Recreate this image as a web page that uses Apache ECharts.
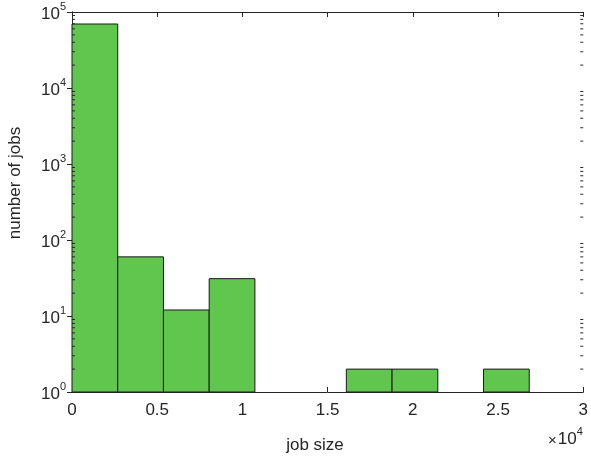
<!DOCTYPE html>
<html><head><meta charset="utf-8">
<script src="https://cdn.jsdelivr.net/npm/echarts@6/dist/echarts.min.js"></script>
<style>html,body{margin:0;padding:0;background:#fff}#c{width:591px;height:458px}</style>
</head><body><div id="c"></div>
<script>
// Data
const binStart = 0;
const binWidth = 2683;
const counts = [69500, 60, 12, 31, 0, 0, 2, 2, 0, 2];
const xTicks = [0, 5000, 10000, 15000, 20000, 25000, 30000];
const yDecades = [0, 1, 2, 3, 4, 5];
const xLabel = 'job size';
const yLabel = 'number of jobs';

const AX = '#262626';
const FONT = 'Liberation Sans, Arial, sans-serif';

const bars = counts.map((c, i) => [binStart + i * binWidth, binStart + (i + 1) * binWidth, c]).filter(d => d[2] > 0);

const minorVals = [];
for (let k = 0; k < 5; k++) for (let m = 2; m <= 9; m++) minorVals.push([m * Math.pow(10, k)]);

const chart = echarts.init(document.getElementById('c'), null, {renderer: 'canvas'});
const supRich = {
  b: {fontSize: 17, fontFamily: FONT, color: AX, lineHeight: 22, verticalAlign: 'bottom'},
  s: {fontSize: 11, fontFamily: FONT, color: AX, lineHeight: 13, verticalAlign: 'top'}
};
chart.setOption({
  animation: false,
  grid: {left: 72, top: 12, right: 2, bottom: 66, containLabel: false},
  xAxis: [{
    type: 'value', min: 0, max: 30000, interval: 5000,
    axisLine: {show: true, onZero: false, lineStyle: {color: AX, width: 1}},
    axisTick: {show: true, inside: true, length: 5, lineStyle: {color: AX}},
    splitLine: {show: false},
    axisLabel: {color: AX, fontFamily: FONT, fontSize: 17, margin: 10,
      formatter: v => String(v / 10000)}
  }, {
    type: 'value', min: 0, max: 30000, interval: 5000, position: 'top',
    axisLine: {show: true, onZero: false, lineStyle: {color: AX, width: 1}},
    axisTick: {show: true, inside: true, length: 5, lineStyle: {color: AX}},
    axisLabel: {show: false}, splitLine: {show: false}
  }],
  yAxis: [{
    type: 'log', logBase: 10, min: 1, max: 100000,
    axisLine: {show: true, lineStyle: {color: AX, width: 1}},
    axisTick: {show: true, inside: true, length: 5, lineStyle: {color: AX}},
    splitLine: {show: false},
    axisLabel: {margin: 6,
      formatter: v => '{b|10}{s|' + Math.round(Math.log10(v)) + '}',
      rich: supRich}
  }, {
    type: 'log', logBase: 10, min: 1, max: 100000, position: 'right',
    axisLine: {show: true, lineStyle: {color: AX, width: 1}},
    axisTick: {show: true, inside: true, length: 5, lineStyle: {color: AX}},
    axisLabel: {show: false}, splitLine: {show: false}
  }],
  series: [{
    type: 'custom', xAxisIndex: 0, yAxisIndex: 0, data: bars,
    renderItem: (params, api) => {
      const p0 = api.coord([api.value(0), api.value(2)]);
      const p1 = api.coord([api.value(1), 1]);
      return {type: 'rect', shape: {x: p0[0], y: p0[1], width: p1[0] - p0[0], height: p1[1] - p0[1]},
        style: {fill: '#61c64e', stroke: '#1a1a1a', lineWidth: 1}};
    }, z: 1
  }, {
    type: 'custom', xAxisIndex: 0, yAxisIndex: 0, data: minorVals, silent: true,
    renderItem: (params, api) => {
      const p = api.coord([0, api.value(0)]);
      const q = api.coord([30000, api.value(0)]);
      return {type: 'group', children: [
        {type: 'line', shape: {x1: p[0], y1: p[1], x2: p[0] + 3, y2: p[1]}, style: {stroke: AX, lineWidth: 1}},
        {type: 'line', shape: {x1: q[0], y1: q[1], x2: q[0] - 3, y2: q[1]}, style: {stroke: AX, lineWidth: 1}}
      ]};
    }, z: 5
  }],
  graphic: [{
    type: 'text', x: 315, y: 445,
    style: {text: xLabel, font: '17px ' + FONT, fill: AX, align: 'center', verticalAlign: 'middle'}
  }, {
    type: 'text', x: 15, y: 183, rotation: Math.PI / 2,
    style: {text: yLabel, font: '17px ' + FONT, fill: AX, align: 'center', verticalAlign: 'middle'}
  }, {
    type: 'text', x: 548, y: 426,
    style: {text: '{a|×}{b|10}{s|4}', rich: {
      a: {fontSize: 15, fontFamily: FONT, fill: AX, lineHeight: 22, verticalAlign: 'bottom', padding: [0, 1, 0, 0]},
      b: {fontSize: 17, fontFamily: FONT, fill: AX, lineHeight: 22, verticalAlign: 'bottom'},
      s: {fontSize: 11, fontFamily: FONT, fill: AX, lineHeight: 13, verticalAlign: 'top'}}}
  }]
});
</script></body></html>
